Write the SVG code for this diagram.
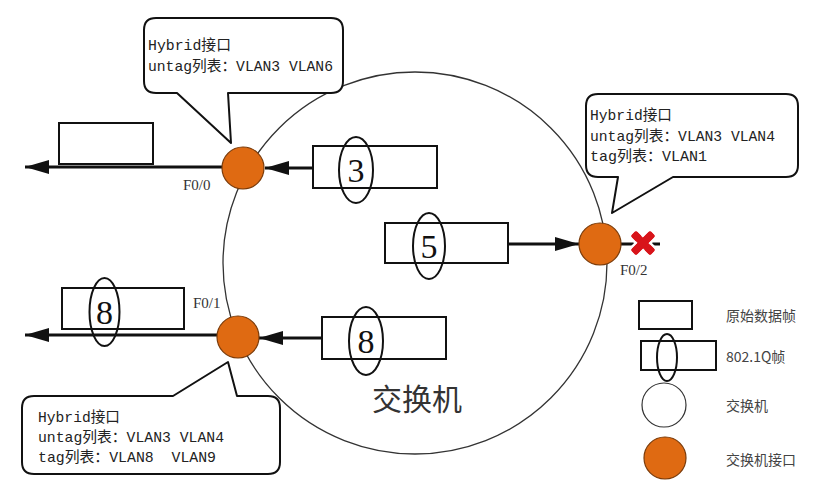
<svg xmlns="http://www.w3.org/2000/svg" width="838" height="493" viewBox="0 0 838 493">
<defs>
<style>
.callout{fill:#fff;stroke:#111;stroke-width:2;stroke-linejoin:round}
.ct{font-family:"Liberation Mono","Noto Sans CJK SC",monospace;font-size:15px;fill:#222}
.frame{fill:#fff;stroke:#111;stroke-width:2}
.tag{fill:none;stroke:#111;stroke-width:2}
.num{font-family:"Liberation Serif","DejaVu Serif",serif;font-size:34px;fill:#111;text-anchor:middle}
.port{fill:#DF6A12;stroke:#7a3a08;stroke-width:1.2}
.link{stroke:#111;stroke-width:3;fill:none}
.plabel{font-family:"Liberation Serif",serif;font-size:15px;fill:#333}
.lt{font-family:"Noto Sans CJK SC","Noto Sans",sans-serif;font-size:14px;fill:#444}
</style>
<marker id="ah" markerUnits="userSpaceOnUse" markerWidth="26" markerHeight="16" refX="24" refY="8" orient="auto">
<path d="M0,1 L24,8 L0,15 Z" fill="#111"/>
</marker>
</defs>

<g id="switch">
<ellipse cx="415" cy="263" rx="192" ry="191" fill="#fff" stroke="#333" stroke-width="1.3"/>
<text x="417" y="410" font-family="'Noto Sans CJK SC',sans-serif" font-size="30" fill="#333" text-anchor="middle">交换机</text>
</g>

<g id="callout-f00">
<path class="callout" d="M156,18 H331 Q343,18 343,30 V81 Q343,93 331,93 H228 L231,143 L177,93 H156 Q144,93 144,81 V30 Q144,18 156,18 Z"/>
<text class="ct" x="148" y="50" textLength="83" lengthAdjust="spacingAndGlyphs">Hybrid接口</text>
<text class="ct" x="148" y="71" textLength="185" lengthAdjust="spacingAndGlyphs">untag列表：VLAN3 VLAN6</text>
</g>

<g id="callout-f02">
<path class="callout" d="M598,94 H786 Q798,94 798,106 V165 Q798,177 786,177 H673 L612,213 L618,177 H598 Q586,177 586,165 V106 Q586,94 598,94 Z"/>
<text class="ct" x="590" y="120" textLength="82" lengthAdjust="spacingAndGlyphs">Hybrid接口</text>
<text class="ct" x="590" y="141" textLength="185" lengthAdjust="spacingAndGlyphs">untag列表：VLAN3 VLAN4</text>
<text class="ct" x="590" y="161" textLength="117" lengthAdjust="spacingAndGlyphs">tag列表：VLAN1</text>
</g>

<g id="callout-f01">
<path class="callout" d="M34,396 H173 L228,362 L237,396 H268 Q280,396 280,408 V462 Q280,474 268,474 H34 Q22,474 22,462 V408 Q22,396 34,396 Z"/>
<text class="ct" x="38" y="422" textLength="82" lengthAdjust="spacingAndGlyphs">Hybrid接口</text>
<text class="ct" x="38" y="442" textLength="186" lengthAdjust="spacingAndGlyphs">untag列表：VLAN3 VLAN4</text>
<text class="ct" x="38" y="462" textLength="178" lengthAdjust="spacingAndGlyphs" xml:space="preserve">tag列表：VLAN8  VLAN9</text>
</g>

<g id="connectors">
<line class="link" x1="222" y1="167" x2="25" y2="167" marker-end="url(#ah)"/>
<line class="link" x1="313" y1="168" x2="265" y2="168" marker-end="url(#ah)"/>
<line class="link" x1="508" y1="244" x2="579" y2="244" marker-end="url(#ah)"/>
<line class="link" x1="620" y1="244" x2="660" y2="244"/>
<line class="link" x1="322" y1="338" x2="259" y2="338" marker-end="url(#ah)"/>
<line class="link" x1="217" y1="335" x2="25" y2="335" marker-end="url(#ah)"/>
</g>

<g id="frame-out-f00">
<rect class="frame" x="59" y="123" width="94" height="41"/>
</g>
<g id="frame-3">
<rect class="frame" x="313" y="146" width="124" height="42"/>
<ellipse class="tag" cx="356" cy="170" rx="17" ry="33"/>
<text class="num" x="356" y="182">3</text>
</g>
<g id="frame-5">
<rect class="frame" x="385" y="223" width="123" height="40"/>
<ellipse class="tag" cx="429" cy="246" rx="16" ry="33"/>
<text class="num" x="429" y="258">5</text>
</g>
<g id="frame-8-in">
<rect class="frame" x="322" y="317" width="124" height="42"/>
<ellipse class="tag" cx="366" cy="341" rx="17" ry="34"/>
<text class="num" x="366" y="353">8</text>
</g>
<g id="frame-8-out">
<rect class="frame" x="62" y="288" width="122" height="41"/>
<ellipse class="tag" cx="104.5" cy="312" rx="15" ry="34"/>
<text class="num" x="104.5" y="324">8</text>
</g>

<g id="port-f00">
<circle class="port" cx="243" cy="168" r="21"/>
<text class="plabel" x="183" y="190">F0/0</text>
</g>
<g id="port-f01">
<circle class="port" cx="238" cy="337" r="21"/>
<text class="plabel" x="193" y="308">F0/1</text>
</g>
<g id="port-f02">
<circle class="port" cx="600" cy="244" r="21"/>
<text class="plabel" x="620" y="275">F0/2</text>
</g>

<g id="blocked" transform="translate(643,243) rotate(45)">
<rect x="-15" y="-5" width="30" height="10" rx="3" fill="#d8141a" stroke="#fff" stroke-width="2.5"/>
<rect x="-5" y="-15" width="10" height="30" rx="3" fill="#d8141a" stroke="#fff" stroke-width="2.5"/>
<rect x="-13.5" y="-3.8" width="27" height="7.6" rx="2" fill="#d8141a"/>
<rect x="-3.8" y="-13.5" width="7.6" height="27" rx="2" fill="#d8141a"/>
</g>

<g id="legend">
<rect class="frame" x="639" y="301" width="53" height="28" stroke-width="1.5"/>
<text class="lt" x="726" y="321">原始数据帧</text>
<rect class="frame" x="641" y="341" width="75" height="29" stroke-width="1.5"/>
<ellipse class="tag" cx="667" cy="357.5" rx="10" ry="23.5" stroke-width="1.5"/>
<text class="lt" x="726" y="362">802.1Q帧</text>
<circle cx="664" cy="405" r="22" fill="#fff" stroke="#333" stroke-width="1.2"/>
<text class="lt" x="726" y="411">交换机</text>
<circle class="port" cx="665" cy="458" r="21"/>
<text class="lt" x="726" y="465">交换机接口</text>
</g>
</svg>
